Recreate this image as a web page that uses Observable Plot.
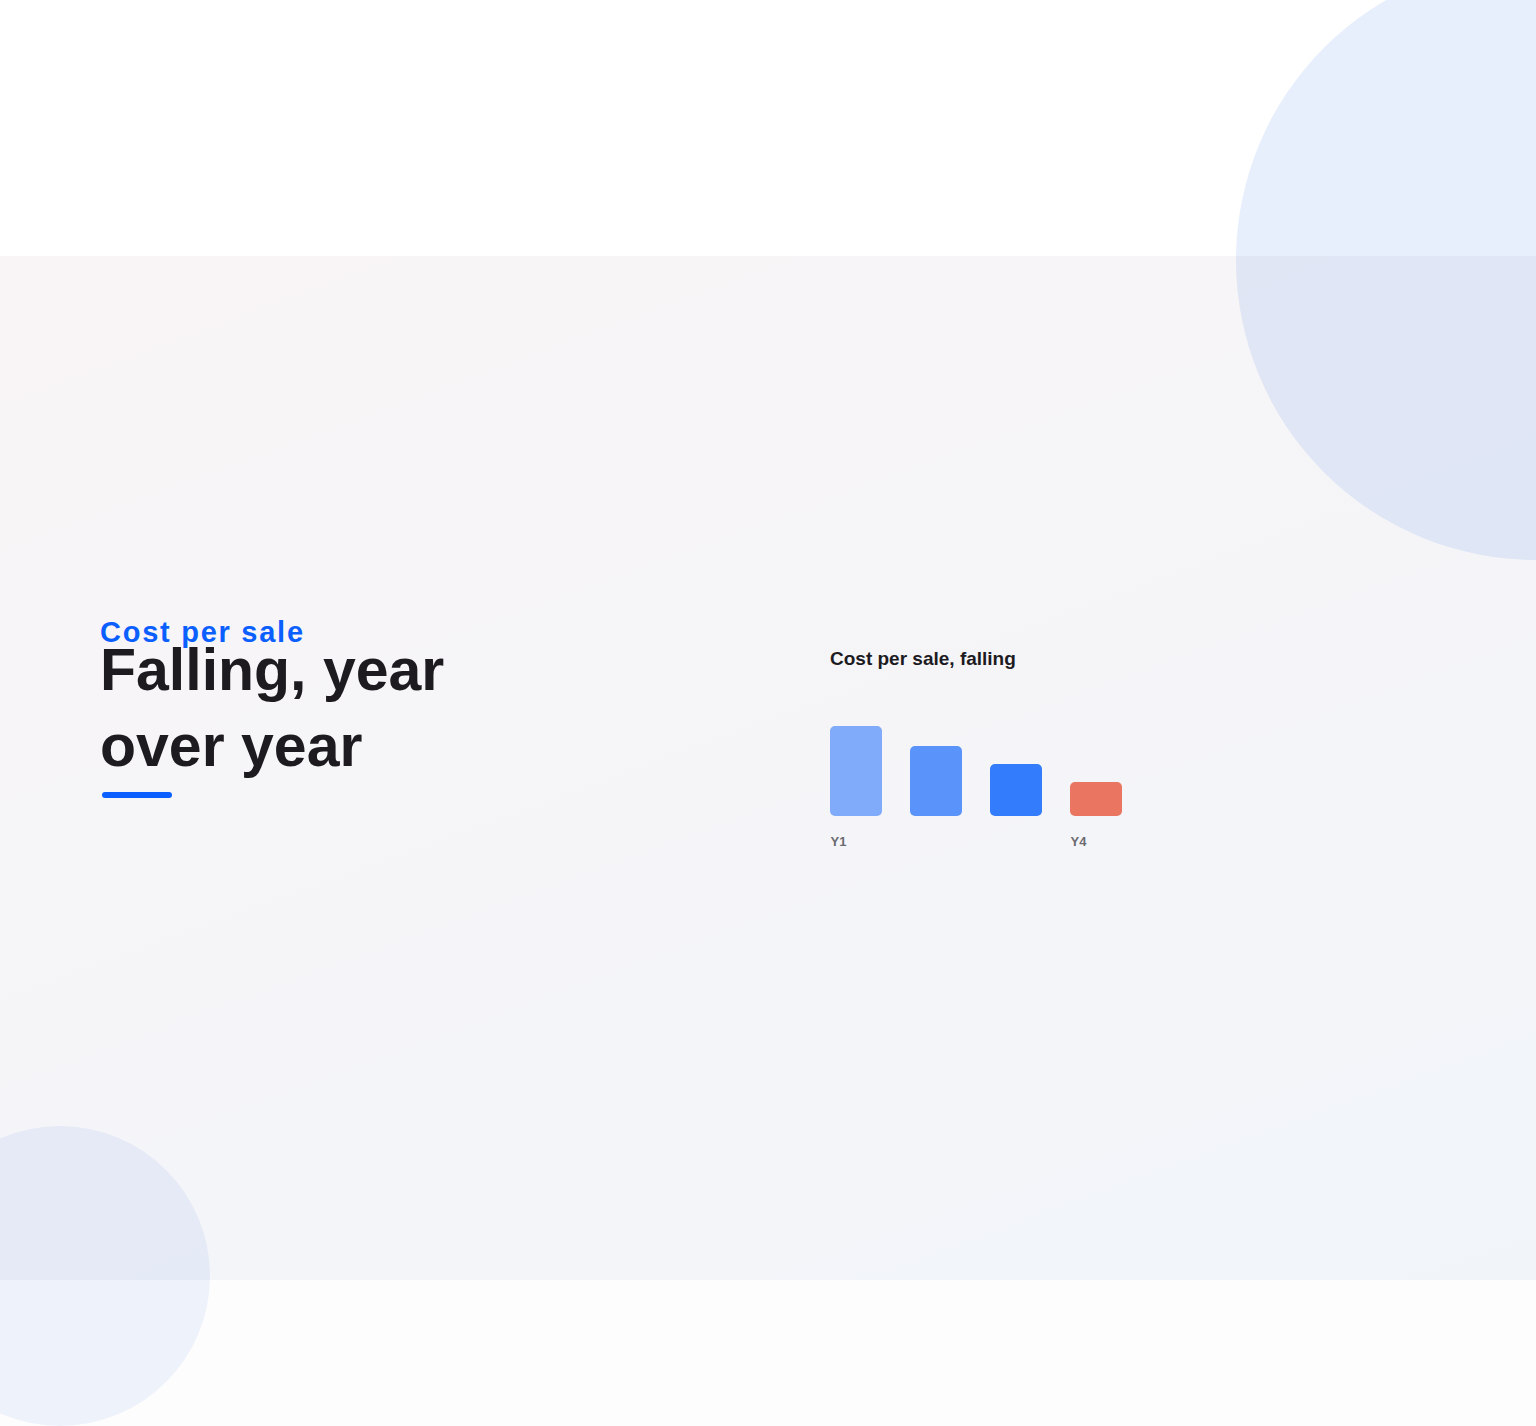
<!DOCTYPE html>
<html>
<head>
<meta charset="utf-8">
<script src="https://cdn.jsdelivr.net/npm/d3@7"></script>
<script src="https://cdn.jsdelivr.net/npm/@observablehq/plot@0.6"></script>
<style>
  html, body { margin: 0; padding: 0; background: #ffffff; }
  body { width: 1536px; height: 1426px; position: relative; overflow: hidden;
         font-family: "Liberation Sans", Arial, Helvetica, sans-serif; }
  .band { position: absolute; left: 0; top: 256px; width: 1536px; height: 1024px;
          background: linear-gradient(160deg, #f9f5f6 0%, #f5f5f8 50%, #f1f5f9 100%); }
  .below { position: absolute; left: 0; top: 1280px; width: 1536px; height: 146px; background: #fdfdfd; }
  .circle { position: absolute; border-radius: 50%; }
  .c1 { left: 1236px; top: -40px; width: 600px; height: 600px; background: rgba(25, 95, 225, 0.10); }
  .c2 { left: -90px; top: 1126px; width: 300px; height: 300px; background: rgba(25, 95, 225, 0.065); }
  .eyebrow { position: absolute; left: 100px; top: 614px; margin: 0; font-size: 29px; font-weight: 700;
             letter-spacing: 0.06em; color: #0b5fff; line-height: 36px; white-space: nowrap; }
  .headline { position: absolute; left: 100px; top: 632px; margin: 0; font-size: 59px; font-weight: 700;
              line-height: 76px; color: #1d1b1f; letter-spacing: 0; }
  .rule { position: absolute; left: 102px; top: 792px; width: 70px; height: 6px; border-radius: 3px; background: #0b5fff; }
  .ctitle { position: absolute; left: 830px; top: 647px; margin: 0; font-size: 19px; font-weight: 700;
            color: #1d1b1f; line-height: 24px; white-space: nowrap; }
  #chart { position: absolute; left: 830px; top: 720px; }
  #chart svg { overflow: visible; }
</style>
</head>
<body>
<div class="band"></div>
<div class="below"></div>
<div class="circle c1"></div>
<div class="circle c2"></div>
<p class="eyebrow">Cost per sale</p>
<h1 class="headline">Falling, year<br>over year</h1>
<div class="rule"></div>
<p class="ctitle">Cost per sale, falling</p>
<div id="chart"></div>
<script>
const years = ["Y1", "Y2", "Y3", "Y4"];
const costs = [45, 35, 26, 17];
const tickLabels = ["Y1", "", "", "Y4"];
const barColors = ["#80aafa", "#5a94fa", "#337dfd", "#ea7661"];

const data = years.map((y, i) => ({year: y, cost: costs[i]}));

const chart = Plot.plot({
  width: 292,
  height: 130,
  marginTop: 6,
  marginBottom: 34,
  marginLeft: 0,
  marginRight: 0,
  style: {background: "transparent", fontFamily: "'Liberation Sans', Arial, sans-serif", overflow: "visible"},
  x: {domain: years, paddingInner: 0.35, paddingOuter: 0, align: 0.5},
  y: {domain: [0, d3.max(costs)], axis: null},
  color: {domain: years, range: barColors},
  marks: [
    Plot.barY(data, {x: "year", y: "cost", fill: "year", rx: 5}),
    Plot.axisX({
      tickSize: 0,
      tickPadding: 20,
      tickFormat: (d) => tickLabels[years.indexOf(d)],
      textAnchor: "start",
      dx: -26,
      fontSize: 13,
      fontWeight: "bold",
      fill: "#6b6b70",
      label: null
    })
  ]
});
document.getElementById("chart").appendChild(chart);
</script>
</body>
</html>
